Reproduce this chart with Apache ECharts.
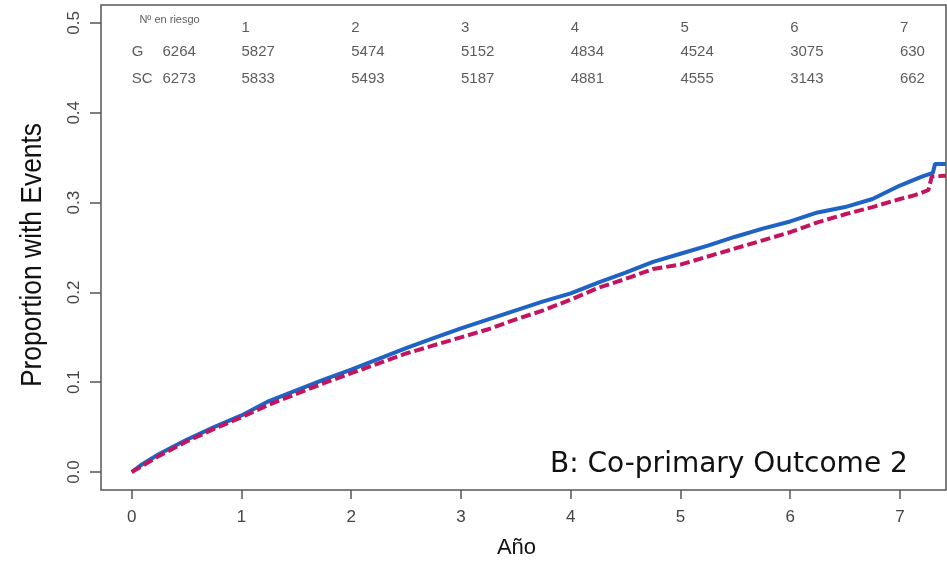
<!DOCTYPE html>
<html>
<head>
<meta charset="utf-8">
<script src="https://cdn.jsdelivr.net/npm/echarts@6/dist/echarts.min.js"></script>
<style>
  html, body { margin: 0; padding: 0; background: #fff; }
  #chart { width: 947px; height: 564px; }
</style>
</head>
<body>
<div id="chart"></div>
<script>
// cumulative proportion with events
const timeG = [0, 0.1, 0.25, 0.5, 0.75, 1, 1.25, 1.5, 1.75, 2, 2.25, 2.5, 2.75, 3, 3.25, 3.5, 3.75, 4, 4.25, 4.5,
  4.75, 5, 5.25, 5.5, 5.75, 6, 6.25, 6.5, 6.75, 7, 7.1, 7.2, 7.3, 7.32, 7.42];
const propG = [0, 0.009, 0.02, 0.036, 0.05, 0.063, 0.079, 0.091, 0.103, 0.114, 0.126, 0.138, 0.149, 0.160, 0.170,
  0.180, 0.190, 0.199, 0.211, 0.222, 0.234, 0.243, 0.252, 0.262, 0.271, 0.279, 0.289, 0.295, 0.304, 0.319, 0.324,
  0.329, 0.333, 0.343, 0.343];
const timeSC = [0, 0.1, 0.25, 0.5, 0.75, 1, 1.25, 1.5, 1.75, 2, 2.25, 2.5, 2.75, 3, 3.25, 3.5, 3.75, 4, 4.25, 4.5,
  4.75, 5, 5.25, 5.5, 5.75, 6, 6.25, 6.5, 6.75, 7, 7.1, 7.2, 7.26, 7.29, 7.42];
const propSC = [0, 0.007, 0.018, 0.034, 0.048, 0.061, 0.075, 0.087, 0.099, 0.110, 0.121, 0.132, 0.141, 0.150, 0.159,
  0.170, 0.180, 0.192, 0.205, 0.215, 0.226, 0.231, 0.240, 0.249, 0.258, 0.267, 0.278, 0.287, 0.295, 0.304, 0.307,
  0.311, 0.314, 0.329, 0.330];

// numbers at risk
const riskYears = [0, 1, 2, 3, 4, 5, 6, 7];
const riskG = [6264, 5827, 5474, 5152, 4834, 4524, 3075, 630];
const riskSC = [6273, 5833, 5493, 5187, 4881, 4555, 3143, 662];

const xTicks = [0, 1, 2, 3, 4, 5, 6, 7];
const yTicks = [0, 0.1, 0.2, 0.3, 0.4, 0.5];

const pairs = (xs, ys) => xs.map((x, i) => [x, ys[i]]);

// risk table rows, placed in data space above the curves
const headRow = 0.495, gRow = 0.468, scRow = 0.438;
const firstCol = 0.28;
const tableData = [['Nº en riesgo', 0.07, 0.503, 11]];
riskYears.forEach((y, i) => {
  const x = i === 0 ? firstCol : y;
  if (i > 0) tableData.push([String(y), y, headRow, 15]);
  tableData.push([String(riskG[i]), x, gRow, 15]);
  tableData.push([String(riskSC[i]), x, scRow, 15]);
});
tableData.push(['G', 0, gRow, 15]);
tableData.push(['SC', 0, scRow, 15]);

const chart = echarts.init(document.getElementById('chart'));

chart.setOption({
  animation: false,
  backgroundColor: '#fff',
  textStyle: { fontFamily: 'Liberation Sans, Arial, sans-serif' },
  grid: {
    left: 101, top: 5, right: 1, bottom: 73,
    show: true, borderColor: '#555', borderWidth: 1.5, backgroundColor: 'transparent'
  },
  title: {
    text: 'B: Co-primary Outcome 2',
    left: 545, top: 446,
    textStyle: { fontFamily: 'DejaVu Sans', fontSize: 28, fontWeight: 'normal', color: '#111' }
  },
  xAxis: {
    type: 'value', min: -0.28, max: 7.42,
    name: 'Año', nameLocation: 'middle', nameGap: 47,
    nameTextStyle: { fontSize: 22, color: '#111', padding: [0, 14, 0, 0] },
    axisLine: { show: false, onZero: false },
    splitLine: { show: false },
    axisTick: { show: true, customValues: xTicks, length: 9, lineStyle: { color: '#555', width: 1.5 } },
    axisLabel: { customValues: xTicks, fontSize: 17, color: '#444', margin: 19 }
  },
  yAxis: {
    type: 'value', min: -0.02, max: 0.52,
    axisLine: { show: false, onZero: false },
    splitLine: { show: false },
    axisTick: { show: true, customValues: yTicks, length: 11, lineStyle: { color: '#555', width: 1.5 } },
    axisLabel: {
      customValues: yTicks, fontSize: 17, color: '#444', margin: 18, rotate: 90,
      formatter: v => v.toFixed(1)
    }
  },
  graphic: [{
    type: 'text',
    x: 33, y: 255,
    rotation: Math.PI / 2,
    scaleX: 0.88,
    style: {
      text: 'Proportion with Events',
      fontSize: 30, fontFamily: 'Liberation Sans, Arial, sans-serif',
      fill: '#111', align: 'center', verticalAlign: 'middle'
    }
  }],
  series: [
    {
      name: 'G', type: 'line', data: pairs(timeG, propG),
      showSymbol: false, symbol: 'none',
      lineStyle: { color: '#1f63c4', width: 4 }
    },
    {
      name: 'SC', type: 'line', data: pairs(timeSC, propSC),
      showSymbol: false, symbol: 'none',
      lineStyle: { color: '#c4135f', width: 4, type: [10, 4] }
    },
    {
      name: 'risk', type: 'scatter', symbolSize: 0, silent: true,
      data: tableData.map(d => ({ value: [d[1], d[2]], name: d[0], label: { fontSize: d[3] } })),
      label: {
        show: true, position: 'right', distance: 0,
        color: '#333', formatter: p => p.name
      }
    }
  ]
});
</script>
</body>
</html>
